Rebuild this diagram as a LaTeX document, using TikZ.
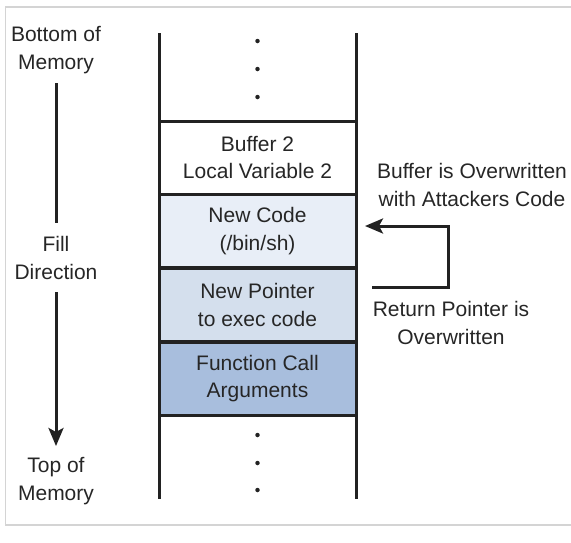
\documentclass[tikz,border=0pt]{standalone}
\usepackage{fontspec}
\setmainfont{Liberation Sans}
\usetikzlibrary{arrows.meta}
\definecolor{txt}{HTML}{262626}
\definecolor{ln}{HTML}{222222}
\definecolor{frm}{HTML}{D4D4D4}
\definecolor{cA}{HTML}{E8EEF7}
\definecolor{cB}{HTML}{D4DFED}
\definecolor{cC}{HTML}{A8BEDD}
\begin{document}
\begin{tikzpicture}[x=1pt,y=-1pt,
  lbl/.style={text=txt,align=center,font=\fontsize{21}{27.5}\selectfont,inner sep=0pt},
  cell/.style={draw=ln,line width=3pt,minimum width=197pt,minimum height=73pt,inner sep=0pt,
     text=txt,align=center,font=\fontsize{21}{27.5}\selectfont},
  wall/.style={draw=ln,line width=3pt},
  conn/.style={draw=ln,line width=3pt},
  arr/.style={conn,-{Stealth[length=18pt,width=15pt,inset=4pt]}},
  dotmark/.style={circle,fill=ln,inner sep=0pt,minimum size=4.5pt}]
\useasboundingbox (0,0) rectangle (571,542);
\draw[frm,line width=1.5pt] (575,7) -- (5.5,7) -- (5.5,525) -- (575,525);

% cells
\node[cell,fill=white] (b2) at (257.5,157.5) {Buffer 2\\Local Variable 2};
\node[cell,fill=cA] (nc) at (257.5,231) {New Code\\(/bin/sh)};
\node[cell,fill=cB] (np) at (257.5,305) {New Pointer\\to exec code};
\node[cell,fill=cC] (fc) at (257.5,378.5) {Function Call\\Arguments};

% walls
\draw[wall] (159,33) -- (159,499);
\draw[wall] (356,33) -- (356,499);

% dots
\node[dotmark] (d1) at (257.5,41) {};
\node[dotmark] (d2) at (257.5,69) {};
\node[dotmark] (d3) at (257.5,97) {};
\node[dotmark] (d4) at (257.5,435) {};
\node[dotmark] (d5) at (257.5,463) {};
\node[dotmark] (d6) at (257.5,490) {};

% left labels
\node[lbl] (bom) at (56,50) {Bottom of\\Memory};
\node[lbl] (fd) at (56,258) {Fill\\Direction};
\node[lbl] (tom) at (56,481) {Top of\\Memory};
\coordinate (la) at (56,83);
\coordinate (lb) at (56,223);
\coordinate (lc) at (56,292);
\coordinate (ld) at (56,446);
\draw[conn] (la) -- (lb);
\draw[arr] (lc) -- (ld);

% right labels
\node[lbl] (bo) at (472,185) {Buffer is Overwritten\\with Attackers Code};
\node[lbl] (rp) at (451,323) {Return Pointer is\\Overwritten};
\coordinate (ra) at (372,287);
\coordinate (rb) at (448,287);
\coordinate (rc) at (448,226);
\coordinate (rd) at (365,226);
\draw[arr] (ra) -- (rb) -- (rc) -- (rd);
\end{tikzpicture}
\end{document}
